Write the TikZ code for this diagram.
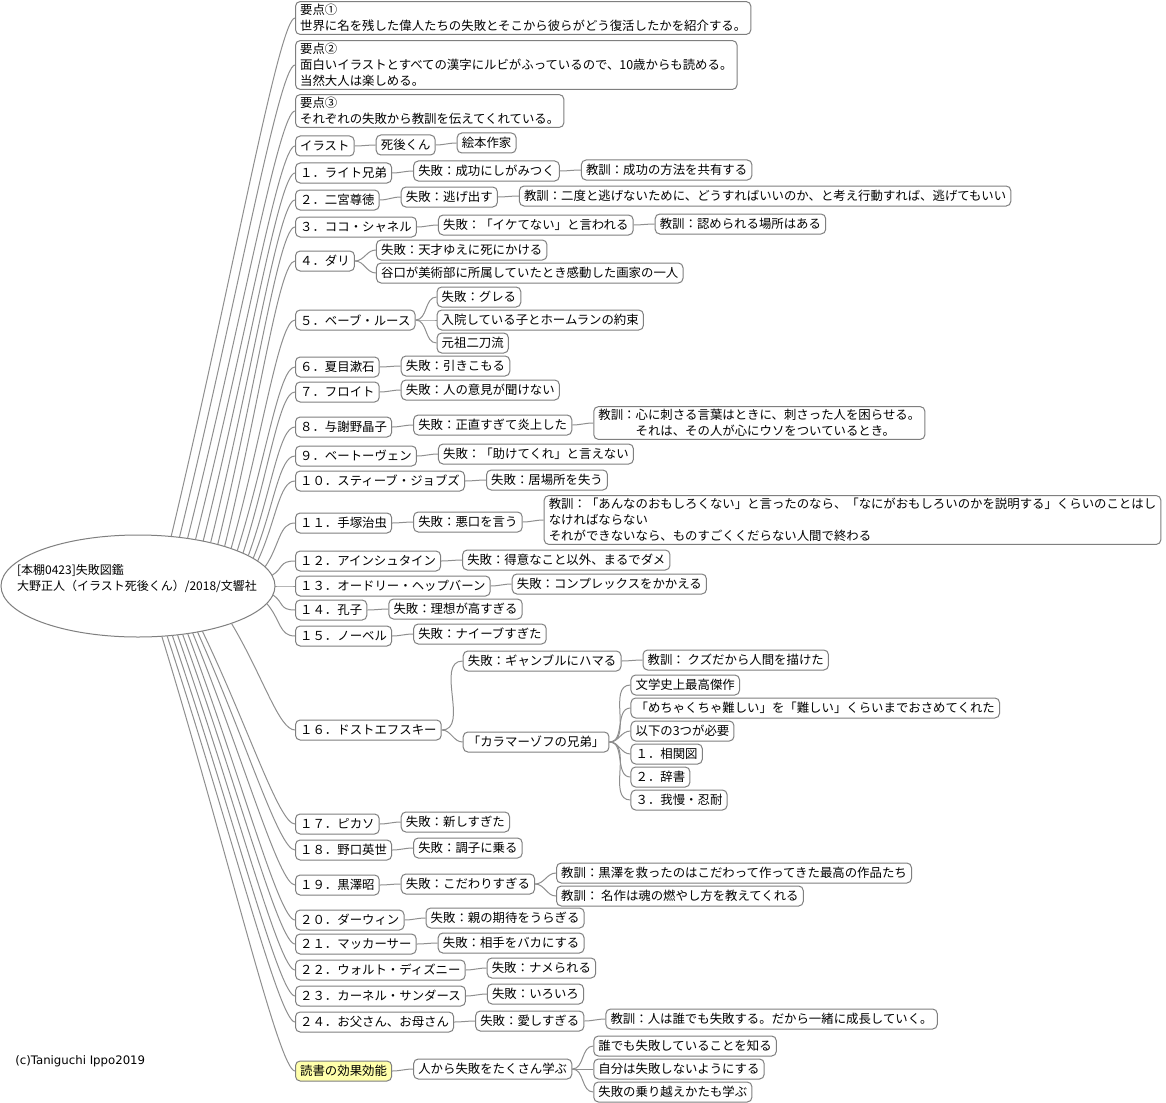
\documentclass[tikz,border=0pt]{standalone}
\usepackage{fontspec}
\setmainfont{Noto Sans CJK JP}
\newfontfamily\latinsans{DejaVu Sans}
\usetikzlibrary{shapes.geometric,calc}
\definecolor{boxgray}{HTML}{7F7F7F}
\definecolor{linegray}{HTML}{8F8F8F}
\definecolor{hlyellow}{HTML}{FFFFAA}
\newcommand\mmkid[4]{\node[box] (#1) at ($(#2.east |- 0,#3)+(21,0)$) {#4};
  \draw[conn] (#2.east) to[out=0,in=180] (#1.west);}
\newcommand\mmroot[2]{\coordinate (s#2) at ($(root.center)+({137*cos(#1)},{-51*sin(#1)})$);
  \draw[conn] (s#2) .. controls ($(s#2)!0.5!(#2.west)$) and ($(#2.west)+(-16,0)$) .. (#2.west);}
\begin{document}
\begin{tikzpicture}[x=0.75pt,y=-0.75pt,
  box/.style={draw=boxgray, fill=white, rounded corners=3.5pt, line width=0.75pt,
    inner xsep=3.5pt, inner ysep=2pt, minimum height=15pt, align=left, anchor=west,
    font=\fontsize{9.3}{12}\selectfont},
  conn/.style={draw=linegray, line width=0.75pt}]
\useasboundingbox (0,0) rectangle (1166,1102);
\fill[white] (0,0) rectangle (1166,1102);
\node[ellipse, draw=boxgray, line width=0.75pt, minimum width=205.5pt, minimum height=76.5pt, inner sep=0pt] (root) at (138,586) {};
\node[align=left, inner sep=0pt, font=\fontsize{9}{12}\selectfont] (roottext) at (137,579) {[本棚0423]失敗図鑑\\大野正人（イラスト死後くん）/2018/文響社};
\node[anchor=west, inner sep=0pt, font=\latinsans\fontsize{8.8}{12}\selectfont] (copy) at (15,1061) {(c)Taniguchi Ippo2019};

\node[box] (p1) at (295,18) {要点①\\世界に名を残した偉人たちの失敗とそこから彼らがどう復活したかを紹介する。};
\node[box] (p2) at (295,65) {要点②\\面白いイラストとすべての漢字にルビがふっているので、10歳からも読める。\\当然大人は楽しめる。};
\node[box] (p3) at (295,111) {要点③\\それぞれの失敗から教訓を伝えてくれている。};

\node[box] (il) at (295,146) {イラスト};
\mmkid{il2}{il}{145}{死後くん}
\mmkid{il3}{il2}{143}{絵本作家}

\node[box] (c1) at (295,173) {１．ライト兄弟};
\mmkid{c1a}{c1}{171}{失敗：成功にしがみつく}
\mmkid{c1b}{c1a}{170}{教訓：成功の方法を共有する}

\node[box] (c2) at (295,200) {２．二宮尊徳};
\mmkid{c2a}{c2}{197}{失敗：逃げ出す}
\mmkid{c2b}{c2a}{196}{教訓：二度と逃げないために、どうすればいいのか、と考え行動すれば、逃げてもいい}

\node[box] (c3) at (295,227) {３．ココ・シャネル};
\mmkid{c3a}{c3}{225}{失敗：「イケてない」と言われる}
\mmkid{c3b}{c3a}{224}{教訓：認められる場所はある}

\node[box] (c4) at (295,261) {４．ダリ};
\mmkid{c4a}{c4}{250}{失敗：天才ゆえに死にかける}
\mmkid{c4b}{c4}{273}{谷口が美術部に所属していたとき感動した画家の一人}

\node[box] (c5) at (295,320) {５．ベーブ・ルース};
\mmkid{c5a}{c5}{297}{失敗：グレる}
\mmkid{c5b}{c5}{320}{入院している子とホームランの約束}
\mmkid{c5c}{c5}{343}{元祖二刀流}

\node[box] (c6) at (295,367) {６．夏目漱石};
\mmkid{c6a}{c6}{366}{失敗：引きこもる}

\node[box] (c7) at (295,392) {７．フロイト};
\mmkid{c7a}{c7}{390}{失敗：人の意見が聞けない}

\node[box] (c8) at (295,427) {８．与謝野晶子};
\mmkid{c8a}{c8}{425}{失敗：正直すぎて炎上した}
\mmkid{c8b}{c8a}{423}{教訓：心に刺さる言葉はときに、刺さった人を困らせる。\\\phantom{教訓：}それは、その人が心にウソをついているとき。}

\node[box] (c9) at (295,456) {９．ベートーヴェン};
\mmkid{c9a}{c9}{454}{失敗：「助けてくれ」と言えない}

\node[box] (c10) at (295,481) {１０．スティーブ・ジョブズ};
\mmkid{c10a}{c10}{480}{失敗：居場所を失う}

\node[box] (c11) at (295,523) {１１．手塚治虫};
\mmkid{c11a}{c11}{522}{失敗：悪口を言う}
\mmkid{c11b}{c11a}{520}{教訓：「あんなのおもしろくない」と言ったのなら、「なにがおもしろいのかを説明する」くらいのことはし\\なければならない\\それができないなら、ものすごくくだらない人間で終わる}

\node[box] (c12) at (295,561) {１２．アインシュタイン};
\mmkid{c12a}{c12}{560}{失敗：得意なこと以外、まるでダメ}

\node[box] (c13) at (295,586) {１３．オードリー・ヘップバーン};
\mmkid{c13a}{c13}{584}{失敗：コンプレックスをかかえる}

\node[box] (c14) at (295,610) {１４．孔子};
\mmkid{c14a}{c14}{609}{失敗：理想が高すぎる}

\node[box] (c15) at (295,636) {１５．ノーベル};
\mmkid{c15a}{c15}{634}{失敗：ナイーブすぎた}

\node[box] (c16) at (295,730) {１６．ドストエフスキー};
\mmkid{c16a}{c16}{661}{失敗：ギャンブルにハマる}
\mmkid{c16aa}{c16a}{660}{教訓： クズだから人間を描けた}
\mmkid{c16b}{c16}{742}{「カラマーゾフの兄弟」}
\mmkid{c16b1}{c16b}{685}{文学史上最高傑作}
\mmkid{c16b2}{c16b}{708}{「めちゃくちゃ難しい」を「難しい」くらいまでおさめてくれた}
\mmkid{c16b3}{c16b}{731}{以下の3つが必要}
\mmkid{c16b4}{c16b}{754}{１．相関図}
\mmkid{c16b5}{c16b}{777}{２．辞書}
\mmkid{c16b6}{c16b}{800}{３．我慢・忍耐}

\node[box] (c17) at (295,824) {１７．ピカソ};
\mmkid{c17a}{c17}{822}{失敗：新しすぎた}

\node[box] (c18) at (295,850) {１８．野口英世};
\mmkid{c18a}{c18}{848}{失敗：調子に乗る}

\node[box] (c19) at (295,885) {１９．黒澤昭};
\mmkid{c19a}{c19}{884}{失敗：こだわりすぎる}
\mmkid{c19b}{c19a}{873}{教訓：黒澤を救ったのはこだわって作ってきた最高の作品たち}
\mmkid{c19c}{c19a}{896}{教訓： 名作は魂の燃やし方を教えてくれる}

\node[box] (c20) at (295,920) {２０．ダーウィン};
\mmkid{c20a}{c20}{918}{失敗：親の期待をうらぎる}

\node[box] (c21) at (295,944) {２１．マッカーサー};
\mmkid{c21a}{c21}{943}{失敗：相手をバカにする}

\node[box] (c22) at (295,970) {２２．ウォルト・ディズニー};
\mmkid{c22a}{c22}{968}{失敗：ナメられる}

\node[box] (c23) at (295,996) {２３．カーネル・サンダース};
\mmkid{c23a}{c23}{994}{失敗：いろいろ}

\node[box] (c24) at (295,1022) {２４．お父さん、お母さん};
\mmkid{c24a}{c24}{1021}{失敗：愛しすぎる}
\mmkid{c24b}{c24a}{1019}{教訓：人は誰でも失敗する。だから一緒に成長していく。}

\node[box, fill=hlyellow] (dk) at (295,1071) {読書の効果効能};
\mmkid{dka}{dk}{1069}{人から失敗をたくさん学ぶ}
\mmkid{dk1}{dka}{1046}{誰でも失敗していることを知る}
\mmkid{dk2}{dka}{1069}{自分は失敗しないようにする}
\mmkid{dk3}{dka}{1092}{失敗の乗り越えかたも学ぶ}

\mmroot{76}{p1}
\mmroot{72.4}{p2}
\mmroot{68.8}{p3}
\mmroot{65.2}{il}
\mmroot{61.6}{c1}
\mmroot{58}{c2}
\mmroot{54.4}{c3}
\mmroot{50.8}{c4}
\mmroot{47.2}{c5}
\mmroot{43.6}{c6}
\mmroot{40}{c7}
\mmroot{36.4}{c8}
\mmroot{32.8}{c9}
\mmroot{29.2}{c10}
\mmroot{22}{c11}
\mmroot{12}{c12}
\mmroot{0}{c13}
\mmroot{-10}{c14}
\mmroot{-20}{c15}
\mmroot{-47}{c16}
\mmroot{-62}{c17}
\mmroot{-64.25}{c18}
\mmroot{-66.5}{c19}
\mmroot{-68.75}{c20}
\mmroot{-71}{c21}
\mmroot{-73.25}{c22}
\mmroot{-75.5}{c23}
\mmroot{-77.75}{c24}
\mmroot{-80}{dk}
\end{tikzpicture}
\end{document}
